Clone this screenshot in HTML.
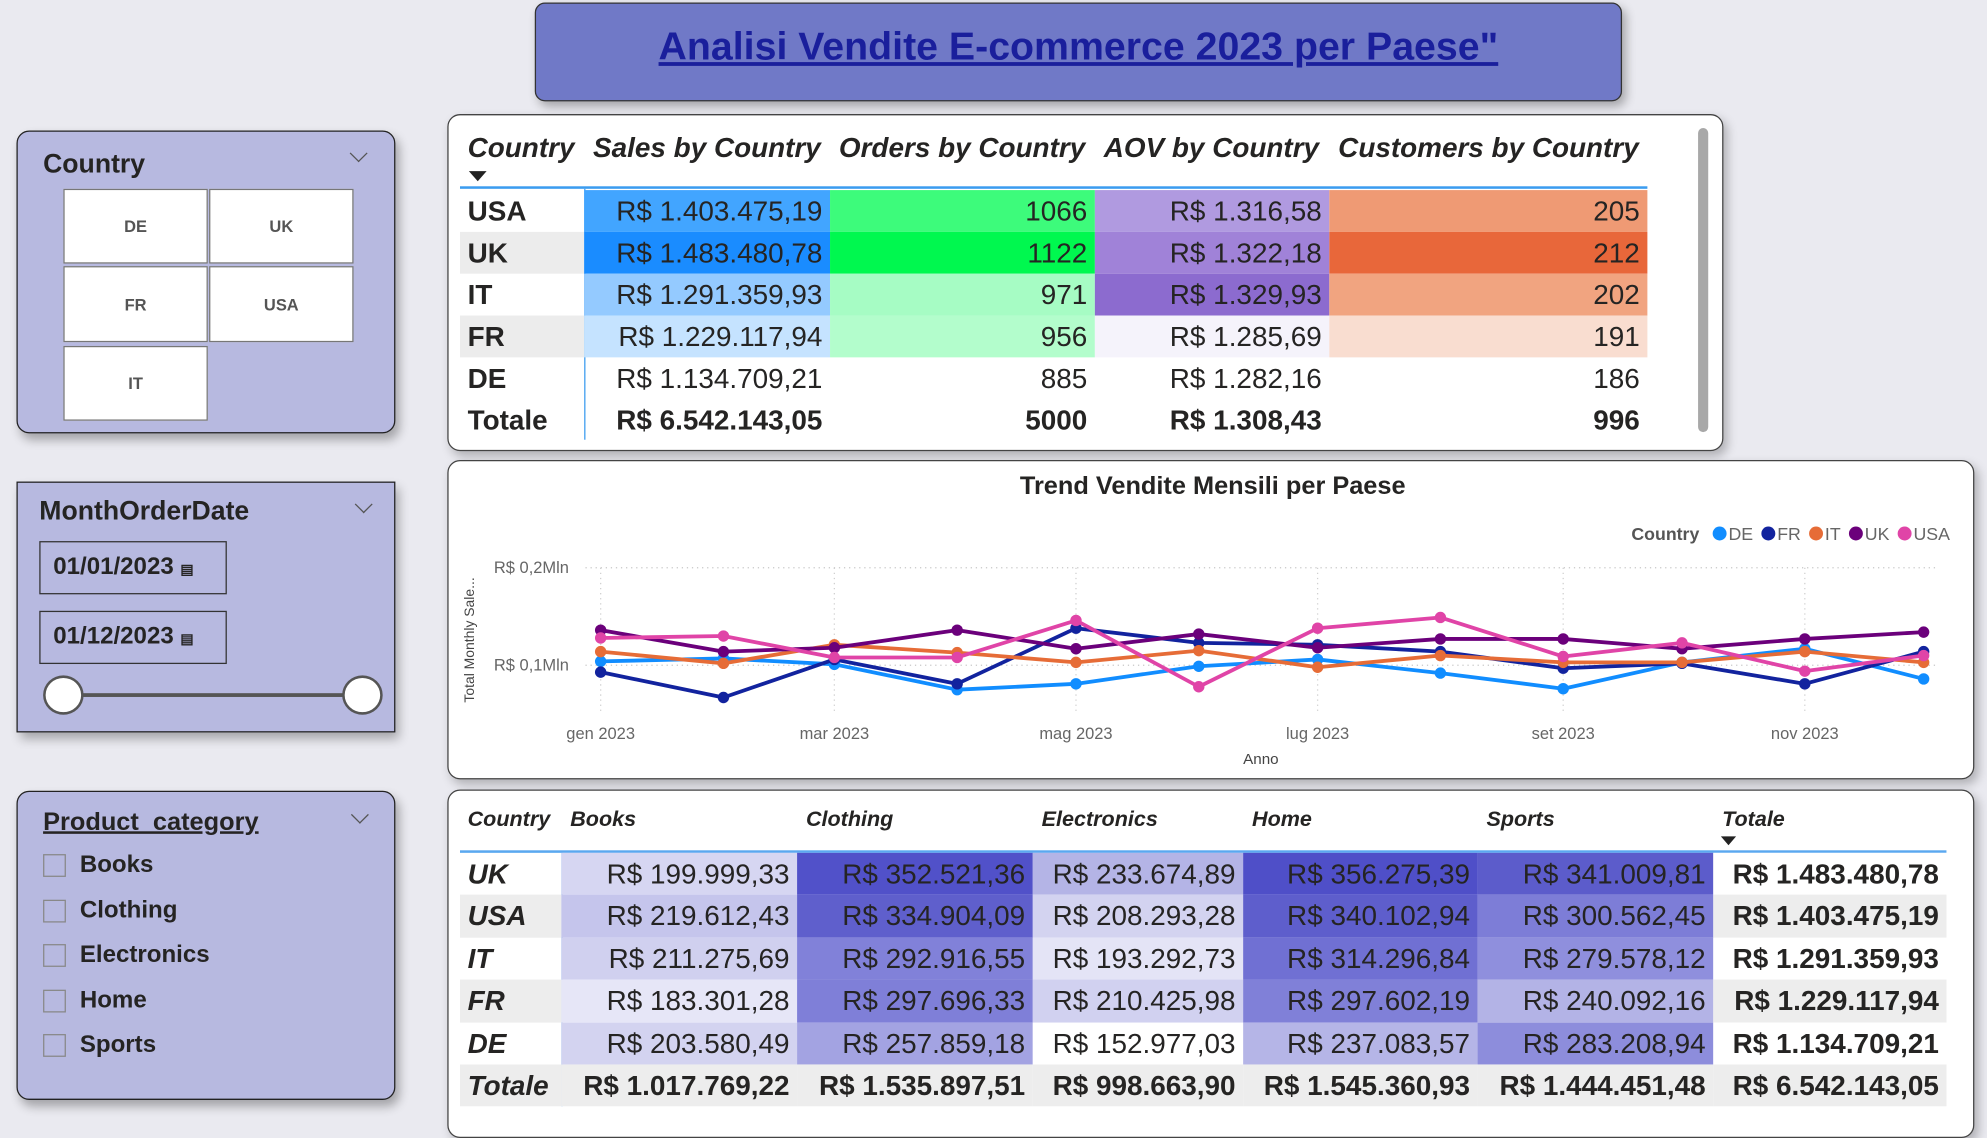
<!DOCTYPE html>
<html><head><meta charset="utf-8">
<style>
html,body{margin:0;padding:0;width:1987px;height:1119px;overflow:hidden;background:#eaeaf0;}
#w{position:absolute;left:0;top:0;width:1568px;height:883px;transform:scale(1.26722);transform-origin:0 0;font-family:"Liberation Sans",sans-serif;color:#252423;}
.abs{position:absolute;box-sizing:border-box;}
.card{background:#fff;border:1.5px solid #444;border-radius:10px;box-shadow:3px 4px 8px rgba(0,0,0,.25);}
.slicer{background:#b7b9e0;border:1.5px solid #222;box-shadow:3px 5px 8px rgba(0,0,0,.3);}
.chev{position:absolute;width:9px;height:9px;border-right:1.3px solid #555;border-bottom:1.3px solid #555;transform:rotate(45deg);}
.btn{position:absolute;background:#fff;border:1px solid #777;font-weight:bold;font-size:13px;color:#555;display:flex;align-items:center;justify-content:center;}
.nar{font-family:"Liberation Sans Narrow","Liberation Sans",sans-serif;}
.cell{position:absolute;height:33px;line-height:33px;font-size:22px;text-align:right;padding-right:6px;box-sizing:border-box;}
.hd{position:absolute;font-style:italic;font-weight:bold;}
</style></head><body>
<div id="w">

<div class="abs" style="left:422px;top:2px;width:858px;height:78px;background:#7079c7;border:1.5px solid #333;border-radius:8px;box-shadow:3px 4px 8px rgba(0,0,0,.3);text-align:center;line-height:68px;">
<span style="font-size:31px;font-weight:bold;color:#1a1f9c;text-decoration:underline;">Analisi Vendite E-commerce 2023 per Paese"</span></div>

<!-- Country slicer -->
<div class="abs slicer" style="left:13px;top:103px;width:299px;height:239px;border-radius:10px;">
<div class="abs" style="left:20px;top:14px;font-size:21px;font-weight:bold;">Country</div>
<div class="chev" style="left:264px;top:12px;"></div>
<div class="btn" style="left:36px;top:45px;width:112px;height:57px;">DE</div>
<div class="btn" style="left:151px;top:45px;width:112px;height:57px;">UK</div>
<div class="btn" style="left:36px;top:106px;width:112px;height:58px;">FR</div>
<div class="btn" style="left:151px;top:106px;width:112px;height:58px;">USA</div>
<div class="btn" style="left:36px;top:169px;width:112px;height:57px;">IT</div>
</div>

<!-- Month slicer -->
<div class="abs slicer" style="left:13px;top:380px;width:299px;height:198px;">
<div class="abs" style="left:17px;top:11px;font-size:21px;font-weight:bold;">MonthOrderDate</div>
<div class="chev" style="left:268px;top:12px;"></div>
<div class="abs" style="left:17px;top:46px;width:148px;height:42px;border:1px solid #333;font-size:19px;font-weight:bold;line-height:40px;padding-left:10px;">01/01/2023 <span style="font-size:11px;">▤</span></div>
<div class="abs" style="left:17px;top:101px;width:148px;height:42px;border:1px solid #333;font-size:19px;font-weight:bold;line-height:40px;padding-left:10px;">01/12/2023 <span style="font-size:11px;">▤</span></div>
<div class="abs" style="left:36px;top:166px;width:236px;height:3px;background:#555;"></div>
<div class="abs" style="left:20px;top:152px;width:32px;height:31px;border-radius:50%;background:#fff;border:2px solid #555;"></div>
<div class="abs" style="left:256px;top:152px;width:32px;height:31px;border-radius:50%;background:#fff;border:2px solid #555;"></div>
</div>

<!-- Product slicer -->
<div class="abs slicer" style="left:13px;top:624px;width:299px;height:244px;border-radius:10px;">
<div class="abs" style="left:20px;top:13px;font-size:20px;font-weight:bold;text-decoration:underline;">Product_category</div>
<div class="chev" style="left:265px;top:13px;"></div>
<div id="cats"></div>
</div>

<!-- Table 1 -->
<div class="abs card" style="left:353px;top:90px;width:1007px;height:266px;">
<div class="abs" style="left:986px;top:10px;width:8px;height:240px;background:#a8a8a8;border-radius:4px;"></div>
</div>
<div id="t1"></div>

<!-- Chart -->
<div class="abs card" style="left:353px;top:363px;width:1205px;height:252px;"></div>
<svg class="abs" id="chart" style="left:0;top:0;" width="1568" height="883"></svg>

<!-- Table 2 -->
<div class="abs card" style="left:353px;top:623px;width:1205px;height:275px;"></div>
<div id="t2"></div>

</div>
<script>
// ---- Chart data ----
const months = ["2023-01-01","2023-02-01","2023-03-01","2023-04-01","2023-05-01","2023-06-01","2023-07-01","2023-08-01","2023-09-01","2023-10-01","2023-11-01","2023-12-01"];
const tickLabels = ["gen 2023","mar 2023","mag 2023","lug 2023","set 2023","nov 2023"];
const tickDates = ["2023-01-01","2023-03-01","2023-05-01","2023-07-01","2023-09-01","2023-11-01"];
const seriesNames = ["DE","FR","IT","UK","USA"];
const seriesColors = ["#118dff","#12239e","#e66c37","#6b007b","#e044a7"];
const deValues = [0.104,0.107,0.101,0.075,0.081,0.099,0.106,0.092,0.076,0.103,0.117,0.086];
const frValues = [0.093,0.067,0.106,0.081,0.138,0.123,0.121,0.114,0.097,0.102,0.081,0.114];
const itValues = [0.114,0.102,0.121,0.113,0.103,0.115,0.098,0.110,0.103,0.103,0.114,0.103];
const ukValues = [0.136,0.114,0.118,0.136,0.117,0.132,0.118,0.127,0.127,0.117,0.127,0.134];
const usaValues = [0.128,0.130,0.108,0.108,0.146,0.078,0.138,0.149,0.109,0.123,0.094,0.110];
const yTicks = [0.1,0.2];
const yTickLabels = ["R$ 0,1Mln","R$ 0,2Mln"];

const NS="http://www.w3.org/2000/svg";
const svg=document.getElementById('chart');
function mk(tag,attrs,parent){const e=document.createElementNS(NS,tag);for(const k in attrs)e.setAttribute(k,attrs[k]);(parent||svg).appendChild(e);return e;}
const d0=new Date("2023-01-01").getTime(), d1=new Date("2023-12-01").getTime();
function xScale(d){return 474+(new Date(d).getTime()-d0)/(d1-d0)*(1518-474);}
function yScale(v){return 525-(v-0.1)*770;}

let t=mk('text',{x:957,y:390,'text-anchor':'middle','font-size':20,'font-weight':'bold',fill:'#252423','font-family':'Liberation Sans'});

t.textContent='Trend Vendite Mensili per Paese';
yTicks.forEach((v,i)=>{
 const g=mk('line',{x1:462,x2:1530,y1:yScale(v),y2:yScale(v),stroke:'#c8c8c8','stroke-dasharray':'1,3'});
 
 const l=mk('text',{x:449,y:yScale(v)+4,'text-anchor':'end','font-size':13,fill:'#666','font-family':'Liberation Sans'});
 
 l.textContent=yTickLabels[i];
});
tickDates.forEach((d,i)=>{
 const g=mk('line',{x1:xScale(d),x2:xScale(d),y1:448,y2:562,stroke:'#d0d0d0','stroke-dasharray':'1,3'});
 
 const l=mk('text',{x:xScale(d),y:583,'text-anchor':'middle','font-size':13,fill:'#666','font-family':'Liberation Sans'});
 
 l.textContent=tickLabels[i];
});
t=mk('text',{x:995,y:603,'text-anchor':'middle','font-size':12,fill:'#444','font-family':'Liberation Sans'});
t.textContent='Anno';
t=mk('text',{x:0,y:0,transform:'translate(374,505) rotate(-90)','text-anchor':'middle','font-size':11,fill:'#444','font-family':'Liberation Sans'});
t.textContent='Total Monthly Sale...';
const allSeries=[deValues,frValues,itValues,ukValues,usaValues];
allSeries.forEach((vals,s)=>{
 const pts=vals.map((v,i)=>xScale(months[i])+','+yScale(v)).join(' ');
 const pl=mk('polyline',{points:pts,fill:'none',stroke:seriesColors[s],'stroke-width':3,'stroke-linejoin':'round'});
 
 
 vals.forEach((v,i)=>{
  const c=mk('circle',{cx:xScale(months[i]),cy:yScale(v),r:4.5,fill:seriesColors[s]});
  
  
 });
});
// legend
t=mk('text',{x:1341,y:426,'text-anchor':'end','font-size':14,'font-weight':'bold',fill:'#555','font-family':'Liberation Sans'});
t.textContent='Country';
let lx=1357;
seriesNames.forEach((n,s)=>{
 const c=mk('circle',{cx:lx,cy:421,r:5.5,fill:seriesColors[s]});
 
 const tx=mk('text',{x:lx+7,y:426,'font-size':14,fill:'#666','font-family':'Liberation Sans Narrow, Liberation Sans'});
 
 tx.textContent=n;
 lx+=7+tx.getComputedTextLength()+12;
});

// ---- Category slicer ----
const cats=["Books","Clothing","Electronics","Home","Sports"];
const cc=document.getElementById('cats');
cats.forEach((c,i)=>{
 const b=document.createElement('div');b.className='abs';
 
 
 b.style.cssText=`left:20px;top:${49+i*35.5}px;width:18px;height:18px;border:1px solid #888;`;
 cc.appendChild(b);
 const l=document.createElement('div');l.className='abs';
 
 
 l.style.cssText=`left:49px;top:${47+i*35.5}px;font-size:19px;font-weight:bold;`;
 l.textContent=c;cc.appendChild(l);
});

// ---- Table 1 ----
const t1Countries=["USA","UK","IT","FR","DE","Totale"];
const t1Sales=["R$ 1.403.475,19","R$ 1.483.480,78","R$ 1.291.359,93","R$ 1.229.117,94","R$ 1.134.709,21","R$ 6.542.143,05"];
const t1Orders=["1066","1122","971","956","885","5000"];
const t1Aov=["R$ 1.316,58","R$ 1.322,18","R$ 1.329,93","R$ 1.285,69","R$ 1.282,16","R$ 1.308,43"];
const t1Cust=["205","212","202","191","186","996"];
const t1Colors=[["#42a5ff","#1a8cff","#94caff","#c5e3ff","",""],["#3dfb7b","#00f84f","#a6fcc4","#b3fdcc","",""],["#b09ae0","#a082d8","#8c6bcf","#f5f3fb","",""],["#ef9a74","#e8673a","#f1a480","#f9ddd0","",""]];
const t1=document.getElementById('t1');
const c1=[363,461,655,864,1049,1300];
const h1=["Country","Sales by Country","Orders by Country","AOV by Country","Customers by Country"];
h1.forEach((h,i)=>{const d=document.createElement('div');d.className='abs hd nar';
 
 
 d.style.cssText=`left:${c1[i]+(i?7:6)}px;top:104px;font-size:22px;white-space:nowrap;`;d.textContent=h;t1.appendChild(d);});
let a=document.createElement('div');a.className='abs';
a.style.cssText='left:370px;top:135px;width:0;height:0;border-left:7px solid transparent;border-right:7px solid transparent;border-top:8px solid #222;';t1.appendChild(a);
a=document.createElement('div');a.className='abs';
a.style.cssText='left:363px;top:147px;width:937px;height:2px;background:#3b9cf0;';t1.appendChild(a);
a=document.createElement('div');a.className='abs';
a.style.cssText='left:461px;top:149px;width:1px;height:198px;background:#3b9cf0;';t1.appendChild(a);
const t1Cols=[t1Sales,t1Orders,t1Aov,t1Cust];
t1Countries.forEach((c,r)=>{
 const y=150+r*33;const tot=r==5;
 const d=document.createElement('div');d.className='cell nar';
 
 
 d.style.cssText=`left:363px;top:${y}px;width:98px;text-align:left;padding-left:6px;font-weight:bold;background:${(r==1||r==3)?'#ececec':'transparent'}`;
 d.textContent=c;t1.appendChild(d);
 t1Cols.forEach((col,k)=>{
  const e=document.createElement('div');e.className='cell nar';
  
  
  e.style.cssText=`left:${c1[k+1]}px;top:${y}px;width:${c1[k+2]-c1[k+1]}px;background:${t1Colors[k][r]||'transparent'};font-weight:${tot?'bold':'normal'};`;
  e.textContent=col[r];t1.appendChild(e);
 });
});

// ---- Table 2 ----
const t2Countries=["UK","USA","IT","FR","DE","Totale"];
const t2Books=["R$ 199.999,33","R$ 219.612,43","R$ 211.275,69","R$ 183.301,28","R$ 203.580,49","R$ 1.017.769,22"];
const t2Clothing=["R$ 352.521,36","R$ 334.904,09","R$ 292.916,55","R$ 297.696,33","R$ 257.859,18","R$ 1.535.897,51"];
const t2Electronics=["R$ 233.674,89","R$ 208.293,28","R$ 193.292,73","R$ 210.425,98","R$ 152.977,03","R$ 998.663,90"];
const t2Home=["R$ 356.275,39","R$ 340.102,94","R$ 314.296,84","R$ 297.602,19","R$ 237.083,57","R$ 1.545.360,93"];
const t2Sports=["R$ 341.009,81","R$ 300.562,45","R$ 279.578,12","R$ 240.092,16","R$ 283.208,94","R$ 1.444.451,48"];
const t2Total=["R$ 1.483.480,78","R$ 1.403.475,19","R$ 1.291.359,93","R$ 1.229.117,94","R$ 1.134.709,21","R$ 6.542.143,05"];
const t2Colors=[["#d6d6f2","#c5c5ec","#d0d0ef","#e6e6f7","#d3d3f0"],["#5151c9","#5f5fcc","#8181d9","#7f7fd8","#a3a3e2"],["#b4b4e6","#d3d3f0","#e4e4f6","#d1d1f0","#ffffff"],["#4f4fc8","#5e5ecc","#7070d3","#8080d8","#b5b5e7"],["#5c5ccb","#7d7dd7","#8f8fdd","#b3b3e6","#8d8ddc"],["#fff","#ededed","#fff","#ededed","#fff"]];
const t2=document.getElementById('t2');
const c2=[363,443,629,815,981,1166,1352,1536];
const h2=["Country","Books","Clothing","Electronics","Home","Sports","Totale"];
h2.forEach((h,i)=>{const d=document.createElement('div');d.className='abs hd nar';
 
 
 d.style.cssText=`left:${c2[i]+(i?7:6)}px;top:637px;font-size:17px;white-space:nowrap;`;d.textContent=h;t2.appendChild(d);});
a=document.createElement('div');a.className='abs';
a.style.cssText='left:1358px;top:660px;width:0;height:0;border-left:6px solid transparent;border-right:6px solid transparent;border-top:7px solid #222;';t2.appendChild(a);
a=document.createElement('div');a.className='abs';
a.style.cssText='left:363px;top:671px;width:1173px;height:2px;background:#5aa8f0;';t2.appendChild(a);
a=document.createElement('div');a.className='abs';
a.style.cssText='left:443px;top:673px;width:1px;height:200px;background:#5aa8f0;';t2.appendChild(a);
const t2Cols=[t2Books,t2Clothing,t2Electronics,t2Home,t2Sports,t2Total];
t2Countries.forEach((c,r)=>{
 const y=673+r*33.4;const tot=r==5;
 const d=document.createElement('div');d.className='cell nar';
 
 
 d.style.cssText=`left:363px;top:${y}px;width:80px;height:33.4px;text-align:left;padding-left:6px;font-weight:bold;font-style:italic;background:${(r==1||r==3||r==5)?'#ededed':'transparent'}`;
 d.textContent=c;t2.appendChild(d);
 t2Cols.forEach((col,k)=>{
  const e=document.createElement('div');e.className='cell nar';
  
  
  const bg=tot?'#ededed':t2Colors[k][r];
  e.style.cssText=`left:${c2[k+1]}px;top:${y}px;width:${c2[k+2]-c2[k+1]}px;height:33.4px;background:${bg};font-weight:${(tot||k==5)?'bold':'normal'};`;
  e.textContent=col[r];t2.appendChild(e);
 });
});
</script>
</body></html>
